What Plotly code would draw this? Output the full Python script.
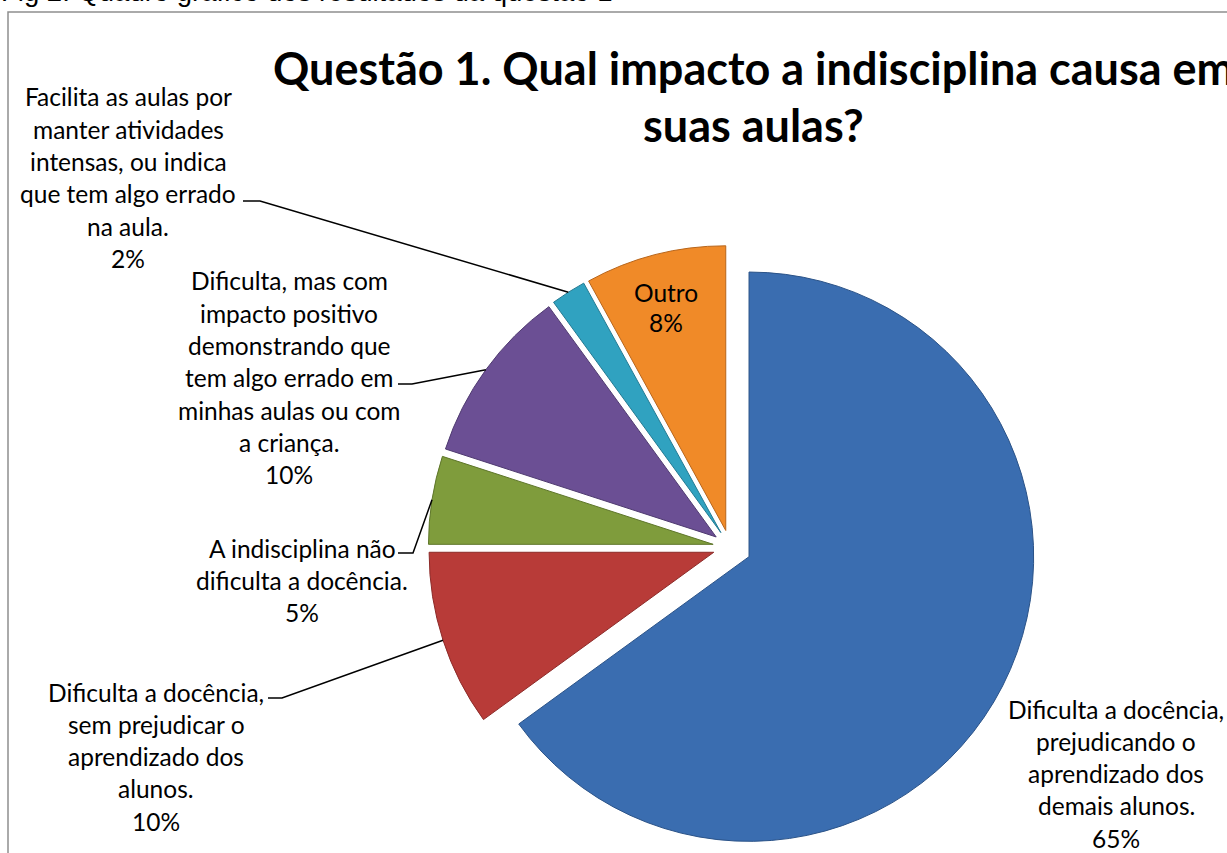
import math
import plotly.graph_objects as go

W, H = 1227, 853

# ---------------- data ----------------
categories = [
    "Dificulta a docência, prejudicando o aprendizado dos demais alunos.",
    "Dificulta a docência, sem prejudicar o aprendizado dos alunos.",
    "A indisciplina não dificulta a docência.",
    "Dificulta, mas com impacto positivo demonstrando que tem algo errado em minhas aulas ou com a criança.",
    "Facilita as aulas por manter atividades intensas, ou indica que tem algo errado na aula.",
    "Outro",
]
values = [65, 10, 5, 10, 2, 8]
label_lines = [
    ["Dificulta a docência,", "prejudicando o", "aprendizado dos", "demais alunos."],
    ["Dificulta a docência,", "sem prejudicar o", "aprendizado dos", "alunos."],
    ["A indisciplina não", "dificulta a docência."],
    ["Dificulta, mas com", "impacto positivo", "demonstrando que", "tem algo errado em",
     "minhas aulas ou com", "a criança."],
    ["Facilita as aulas por", "manter atividades", "intensas, ou indica", "que tem algo errado",
     "na aula."],
    ["Outro"],
]
title_lines = ["Questão 1. Qual impacto a indisciplina causa em", "suas aulas?"]
caption = "Fig 2. Quadro gráfico dos resultados da questão 1"

# ---------------- styles / layout ----------------
colors = ["#3A6DB0", "#B83B38", "#7F9C3C", "#6B4F94", "#30A2C0", "#F08A28"]
edge_colors = ["#2B5388", "#8C2A28", "#5E762A", "#4F3A70", "#227A92", "#B8651A"]
pulls = [0.075, 0.06, 0.06, 0.06, 0.06, 0.06]

dom_x = [410 / W, 1050 / W]
dom_y = [0.0, 1 - 241 / H]

# label block positions (pixel: centre x, centre y of first line)
label_pos = [(1116, 709), (156, 692), (302, 548), (289, 281), (128, 97), (666, 292)]
# leader line start (x_text_end, y, x_elbow) in pixels
leader_start = [None, (268, 698, 282), (398, 553, 413), (398, 384, 412), (243, 201, 260), None]
LINE_H = 32.3
LABEL_FONT = dict(family="Lato, Carlito, Calibri, sans-serif", size=24.5, color="black")
TITLE_FONT = dict(family="Lato, Carlito, Calibri, sans-serif", size=45, color="black")


def px2paper(x, y):
    return x / W, 1 - y / H


fig = go.Figure()
fig.add_trace(go.Pie(
    labels=categories,
    values=values,
    sort=False,
    direction="clockwise",
    rotation=0,
    pull=pulls,
    marker=dict(colors=colors, line=dict(color=edge_colors, width=1)),
    textinfo="none",
    hoverinfo="label+percent",
    domain=dict(x=dom_x, y=dom_y),
    showlegend=False,
))

# geometry of the pie (same rules plotly uses) to anchor leader lines
cx = W * (dom_x[0] + dom_x[1]) / 2
cy = H * (1 - (dom_y[0] + dom_y[1]) / 2)
r = min(W * (dom_x[1] - dom_x[0]), H * (dom_y[1] - dom_y[0])) / 2 / (1 + max(pulls))
total = sum(values)

annotations = []
shapes = []
cum = 0.0
for i, v in enumerate(values):
    mid = (cum + v / 2) / total
    cum += v
    th = 2 * math.pi * mid
    ux, uy = math.sin(th), -math.cos(th)
    ax = cx + (1 + pulls[i]) * r * ux
    ay = cy + (1 + pulls[i]) * r * uy

    lines = label_lines[i] + [f"{v / total:.0%}"]
    lx, ly = label_pos[i]
    for k, t in enumerate(lines):
        px, py = px2paper(lx, ly + k * (LINE_H if i != 5 else 30))
        annotations.append(dict(
            x=px, y=py, xref="paper", yref="paper", text=t, showarrow=False,
            xanchor="center", yanchor="middle", font=LABEL_FONT,
        ))
    if leader_start[i] is not None:
        sx, sy, ex = leader_start[i]
        p1 = px2paper(sx, sy)
        p2 = px2paper(ex, sy)
        p3 = px2paper(ax, ay)
        shapes.append(dict(
            type="path", xref="paper", yref="paper",
            path=f"M {p1[0]},{p1[1]} L {p2[0]},{p2[1]} L {p3[0]},{p3[1]}",
            line=dict(color="black", width=1.5),
        ))

# title (two lines)
for k, (t, yy) in enumerate(zip(title_lines, [68, 125])):
    px, py = px2paper(753, yy)
    annotations.append(dict(
        x=px, y=py, xref="paper", yref="paper", text=f"<b>{t}</b>", showarrow=False,
        xanchor="center", yanchor="middle", font=TITLE_FONT,
    ))

# document caption (clipped at top)
annotations.append(dict(
    x=-1 / W, y=1, xref="paper", yref="paper", text=caption, showarrow=False,
    xanchor="left", yanchor="bottom", yshift=-9,
    font=dict(family="Liberation Sans, Arial, sans-serif", size=27.5, color="black"),
))

# frame of the chart object
shapes.append(dict(
    type="rect", xref="paper", yref="paper",
    x0=8 / W, x1=1.2, y0=-0.2, y1=1 - 12 / H,
    line=dict(color="#8E8E8E", width=1.5), fillcolor="rgba(0,0,0,0)", layer="below",
))

fig.update_layout(
    width=W, height=H, autosize=False,
    margin=dict(l=0, r=0, t=0, b=0),
    paper_bgcolor="white", plot_bgcolor="white",
    annotations=annotations, shapes=shapes,
)

fig.write_html("out.html", config={"displayModeBar": False},
               post_script="document.body.style.margin='0';")
